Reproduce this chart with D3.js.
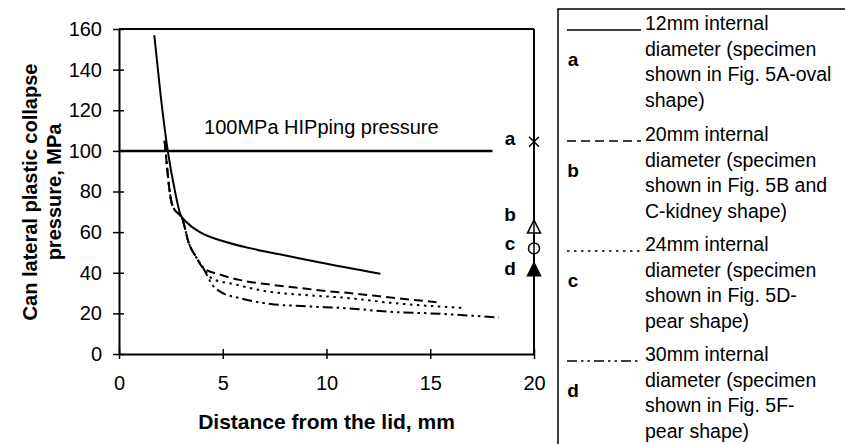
<!DOCTYPE html>
<html><head><meta charset="utf-8">
<script src="https://cdn.jsdelivr.net/npm/d3@7"></script>
<style>
html,body{margin:0;padding:0;background:#fff;}
svg{display:block;}
text{font-family:"Liberation Sans",Arial,sans-serif;fill:#000;}
</style></head>
<body>
<svg id="chart" width="845" height="444"></svg>
<script>
// ---- data ----
const seriesA = [[1.7,157],[2.0,128],[2.35,100],[2.7,80],[2.95,69],[3.3,64.5],[3.9,60],[5.2,55],[6.8,51],[7.8,49],[9.7,45],[12.6,39.5]];
const seriesB = [[2.2,105],[2.55,74],[3.1,65],[3.35,55],[3.7,48],[4.05,42.5],[4.9,39],[5.8,36.5],[7.4,34],[8.7,32.5],[10,31],[11.1,30],[13.3,27.6],[15.3,25.5]];
const seriesC = [[2.2,105],[2.55,74],[3.1,65],[3.35,55],[3.7,48],[4.05,42.5],[4.5,37],[5.5,34.5],[7,31],[9,29],[11,27.6],[13.1,25.2],[16.6,22.7]];
const seriesD = [[2.2,105],[2.55,74],[3.1,65],[3.35,55],[3.7,48],[4.05,42.5],[4.5,34],[5.0,30],[5.8,27.6],[7.3,24.6],[9,23.5],[11,22.5],[13.2,20.7],[15,20],[18.3,18]];
const hipLine = [[0,100],[18,100]];
const hipLabel = "100MPa HIPping pressure";
const markerX = 20;
const markerKeys = ["a","b","c","d"];
const markerValues = [104.5, 62.5, 52, 41.5];
const markerSymbols = ["cross","triangle-open","circle-open","triangle-filled"];
const xTicks = [0,5,10,15,20];
const yTicks = [0,20,40,60,80,100,120,140,160];
const xTitle = "Distance from the lid, mm";
const yTitle = ["Can lateral plastic collapse","pressure, MPa"];
const legendLines = [
  ["12mm internal","diameter (specimen","shown in Fig. 5A-oval","shape)"],
  ["20mm internal","diameter (specimen","shown in Fig. 5B and","C-kidney shape)"],
  ["24mm internal","diameter (specimen","shown in Fig. 5D-","pear shape)"],
  ["30mm internal","diameter (specimen","shown in Fig. 5F-","pear shape)"]
];

// ---- layout ----
const svg = d3.select("#chart");
const m = {left:119, top:29, width:415, height:325};
const x = d3.scaleLinear().domain([0,20]).range([m.left, m.left+m.width]);
const y = d3.scaleLinear().domain([0,160]).range([m.top+m.height, m.top]);
const fs = 20;

// frame top line
svg.append("line").attr("x1",x(0)).attr("x2",x(20)).attr("y1",y(160)).attr("y2",y(160))
  .attr("stroke","#000").attr("stroke-width",2);

// axes
const xAxis = svg.append("g").attr("transform",`translate(0,${y(0)})`)
  .call(d3.axisBottom(x).tickValues(xTicks).tickSize(0).tickPadding(22));
xAxis.select(".domain").attr("stroke","#000").attr("stroke-width",2);
xAxis.selectAll(".tick text").attr("font-size",fs).attr("font-family","Liberation Sans, Arial, sans-serif");
xAxis.selectAll(".tick").append("line").attr("y1",-5).attr("y2",5).attr("stroke","#000").attr("stroke-width",1.5);

const yAxis = svg.append("g").attr("transform",`translate(${x(0)},0)`)
  .call(d3.axisLeft(y).tickValues(yTicks).tickSize(0).tickPadding(17));
yAxis.select(".domain").attr("stroke","#000").attr("stroke-width",2);
yAxis.selectAll(".tick text").attr("font-size",fs).attr("font-family","Liberation Sans, Arial, sans-serif");
yAxis.selectAll(".tick").append("line").attr("x1",-6).attr("x2",5).attr("stroke","#000").attr("stroke-width",1.5);

// right vertical line at x=20
svg.append("line").attr("x1",x(markerX)).attr("x2",x(markerX)).attr("y1",y(0)).attr("y2",y(160))
  .attr("stroke","#000").attr("stroke-width",2);

// titles
svg.append("text").attr("x",x(10)).attr("y",429).attr("text-anchor","middle")
  .attr("font-size",21).attr("font-weight","bold").text(xTitle);
const yt = svg.append("text").attr("transform","translate(30,192) rotate(-90)")
  .attr("text-anchor","middle").attr("font-size",20).attr("font-weight","bold");
yTitle.forEach((t,i)=>yt.append("tspan").attr("x",0).attr("dy",i===0?"0.35em":"24").text(t));

// HIP line
const line = d3.line().x(d=>x(d[0])).y(d=>y(d[1]));
svg.append("path").attr("d",line(hipLine)).attr("fill","none").attr("stroke","#000").attr("stroke-width",2.5);
svg.append("text").attr("x",x(4.1)).attr("y",y(100)-17).attr("font-size",fs).text(hipLabel);

// curves
const curve = d3.line().x(d=>x(d[0])).y(d=>y(d[1])).curve(d3.curveMonotoneX);
const styles = [
  {data:seriesA, dash:null},
  {data:seriesB, dash:"9,5"},
  {data:seriesC, dash:"2.5,4.5"},
  {data:seriesD, dash:"10,4,2.5,4,2.5,4"}
];
styles.forEach(s=>{
  svg.append("path").attr("d",curve(s.data)).attr("fill","none").attr("stroke","#000")
    .attr("stroke-width",2).attr("stroke-dasharray",s.dash);
});

// markers at x=20
const labelOffsets = [3,-6,2,5];
markerValues.forEach((v,i)=>{
  const cx = x(markerX), cy = y(v);
  const sym = markerSymbols[i];
  if(sym==="cross"){
    svg.append("path").attr("d",`M${cx-5},${cy-5}L${cx+5},${cy+5}M${cx-5},${cy+5}L${cx+5},${cy-5}`)
      .attr("stroke","#000").attr("stroke-width",1.5);
  } else if(sym==="circle-open"){
    svg.append("circle").attr("cx",cx).attr("cy",cy).attr("r",5.5).attr("fill","#fff").attr("stroke","#000").attr("stroke-width",1.5);
    svg.append("line").attr("x1",cx).attr("x2",cx).attr("y1",cy-5.5).attr("y2",cy+5.5).attr("stroke","#000").attr("stroke-width",1.5);
  } else {
    const filled = sym==="triangle-filled";
    svg.append("path").attr("d",`M${cx},${cy-7}L${cx+6.5},${cy+6}L${cx-6.5},${cy+6}Z`)
      .attr("fill",filled?"#000":"#fff").attr("stroke","#000").attr("stroke-width",1.5);
    if(!filled) svg.append("line").attr("x1",cx).attr("x2",cx).attr("y1",cy-7).attr("y2",cy+6).attr("stroke","#000").attr("stroke-width",1.5);
  }
  svg.append("text").attr("x",cx-24).attr("y",cy+labelOffsets[i]).attr("text-anchor","middle")
    .attr("font-size",19).attr("font-weight","bold").text(markerKeys[i]);
});

// legend
svg.append("rect").attr("x",558).attr("y",9).attr("width",300).attr("height",450)
  .attr("fill","none").attr("stroke","#000").attr("stroke-width",1.5);
const itemStart = [30,141,251,361];
const L = 25.5;
legendLines.forEach((lines,i)=>{
  const by = itemStart[i];
  svg.append("line").attr("x1",567).attr("x2",641).attr("y1",by).attr("y2",by)
    .attr("stroke","#000").attr("stroke-width",1.5).attr("stroke-dasharray",styles[i].dash);
  lines.forEach((t,j)=>{
    svg.append("text").attr("x",645).attr("y",by+j*L).attr("font-size",19.5).text(t);
  });
  svg.append("text").attr("x",573).attr("y",by+36).attr("text-anchor","middle")
    .attr("font-size",19).attr("font-weight","bold").text(markerKeys[i]);
});
</script>
</body></html>
